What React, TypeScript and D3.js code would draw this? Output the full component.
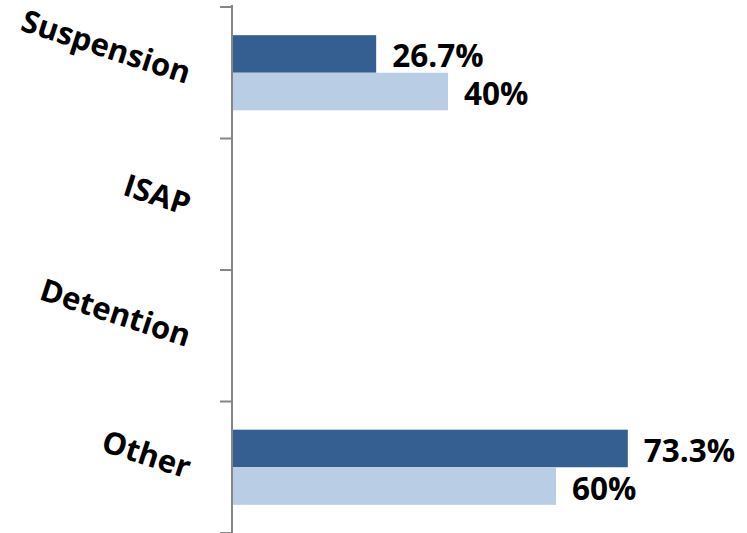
import React from "react";
import * as d3 from "d3";

const categories = ["Suspension", "ISAP", "Detention", "Other"];
const seriesNames = ["Series 1", "Series 2"];
const series1 = [26.7, null, null, 73.3];
const series2 = [40, null, null, 60];
const labels1 = ["26.7%", "", "", "73.3%"];
const labels2 = ["40%", "", "", "60%"];
const colors = ["#365F91", "#B9CDE5"];

const W = 747;
const H = 533;

export default function App() {
  const y = d3.scaleBand<string>().domain(categories).range([7, 533]).paddingInner(0).paddingOuter(0);
  const yi = d3.scaleBand<string>().domain(seriesNames).range([0, y.bandwidth()]).paddingInner(0).paddingOuter(0.75);
  const x = d3.scaleLinear().domain([0, 100]).range([232, 772]);
  const font = "'Open Sans', 'DejaVu Sans', sans-serif";
  const allSeries = [series1, series2];
  const allLabels = [labels1, labels2];
  const tickYs = [...categories.map((c) => y(c) as number), y.range()[1]];

  return (
    <svg width={W} height={H} style={{ position: "absolute", left: 0, top: 0, background: "#fff" }}>
      {categories.map((c, ci) => (
        <g key={c}>
          {allSeries.map((s, si) => {
            const v = s[ci];
            if (v == null) return null;
            const yy = (y(c) as number) + (yi(seriesNames[si]) as number);
            return (
              <g key={si}>
                <rect x={x(0)} y={yy} width={x(v) - x(0)} height={yi.bandwidth()} fill={colors[si]} />
                <text
                  x={x(v) + 16}
                  y={yy + yi.bandwidth() / 2 + 1}
                  dominantBaseline="central"
                  fontFamily={font}
                  fontWeight="bold"
                  fontSize={31.5}
                  fill="#000"
                >
                  {allLabels[si][ci]}
                </text>
              </g>
            );
          })}
          <text
            transform={`translate(190, ${(y(c) as number) + y.bandwidth() / 2}) rotate(18)`}
            textAnchor="end"
            dominantBaseline="central"
            fontFamily={font}
            fontWeight="bold"
            fontSize={31}
            fill="#000"
          >
            {c}
          </text>
        </g>
      ))}
      <line x1={232} x2={232} y1={5} y2={533} stroke="#868686" strokeWidth={2} />
      {tickYs.map((t, i) => (
        <line key={i} x1={220} x2={232} y1={t} y2={t} stroke="#868686" strokeWidth={2} />
      ))}
    </svg>
  );
}
